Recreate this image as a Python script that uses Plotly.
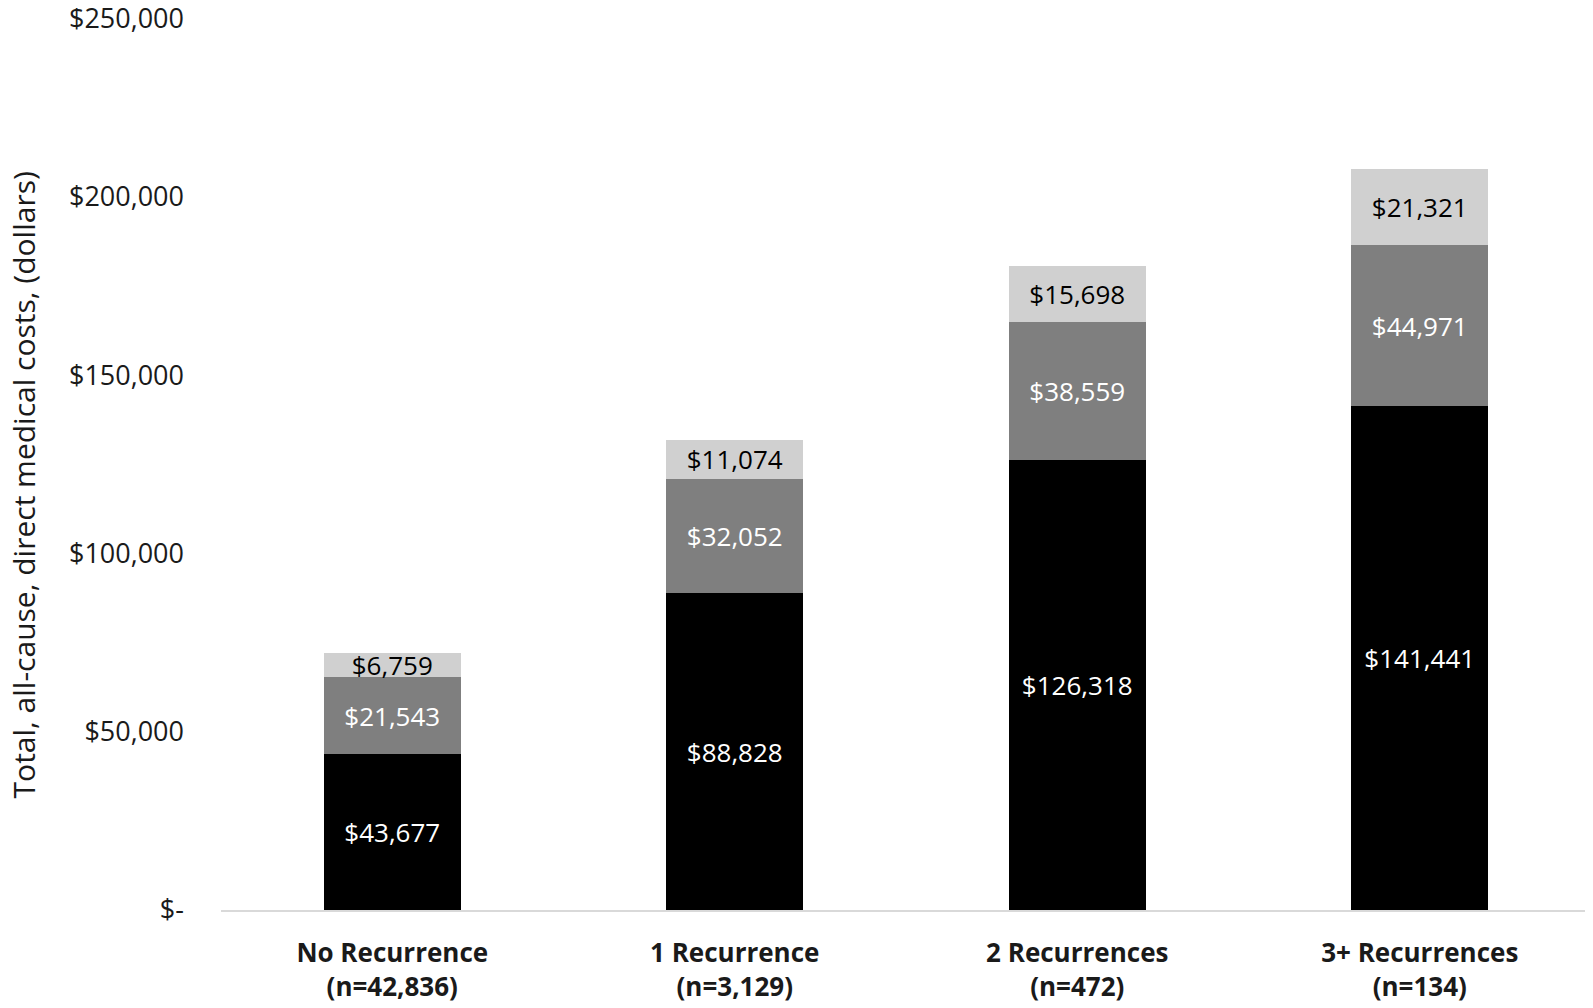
import plotly.graph_objects as go

categories = ["No Recurrence<br>(n=42,836)", "1 Recurrence<br>(n=3,129)",
              "2 Recurrences<br>(n=472)", "3+ Recurrences<br>(n=134)"]
bottom_vals = [43677, 88828, 126318, 141441]
middle_vals = [21543, 32052, 38559, 44971]
top_vals = [6759, 11074, 15698, 21321]
y_tickvals = [0, 50000, 100000, 150000, 200000, 250000]
y_ticktext = ["$-", "$50,000", "$100,000", "$150,000", "$200,000", "$250,000"]

FONT = "Open Sans"
x_labels = ["<b>" + c.replace("<br>", "</b><br><b>") + "</b>" for c in categories]

def fmt(v):
    return "${:,}".format(v)

fig = go.Figure()
series = [
    ("Segment 1", bottom_vals, "#000000", "white"),
    ("Segment 2", middle_vals, "#7f7f7f", "white"),
    ("Segment 3", top_vals, "#d0d0d0", "black"),
]
for name, vals, color, tcolor in series:
    fig.add_trace(go.Bar(
        x=x_labels, y=vals, name=name,
        marker=dict(color=color, line=dict(width=0)),
        text=[fmt(v) for v in vals],
        textposition="inside", insidetextanchor="middle",
        textfont=dict(family=FONT, size=26, color=tcolor),
        cliponaxis=False,
    ))

fig.update_layout(
    barmode="stack",
    bargap=0.6,
    width=1585, height=1000,
    margin=dict(l=213, r=2, t=10, b=98),
    plot_bgcolor="white", paper_bgcolor="white",
    showlegend=False,
    uniformtext=dict(minsize=26, mode="show"),
    font=dict(family=FONT, color="#1a1a1a"),
    xaxis=dict(
        showline=True, linecolor="#d9d9d9", linewidth=2,
        showgrid=False, ticks="", automargin=False,
        tickfont=dict(family=FONT, size=26, color="#1a1a1a"),
        ticklabelstandoff=19,
    ),
    yaxis=dict(
        range=[0, 250200], tickvals=y_tickvals, ticktext=y_ticktext,
        showgrid=False, zeroline=False, showline=False, ticks="",
        automargin=False, ticklabeloverflow="allow",
        tickfont=dict(family=FONT, size=27, color="#1a1a1a"),
        ticklabelstandoff=36,
    ),
    annotations=[dict(
        text="Total, all-cause, direct medical costs, (dollars)",
        xref="paper", yref="paper", x=-0.1445, y=0.476,
        xanchor="center", yanchor="middle", textangle=-90, showarrow=False,
        borderpad=0,
        font=dict(family=FONT, size=30, color="#1a1a1a"),
    )],
)

fig.write_html("out.html")
